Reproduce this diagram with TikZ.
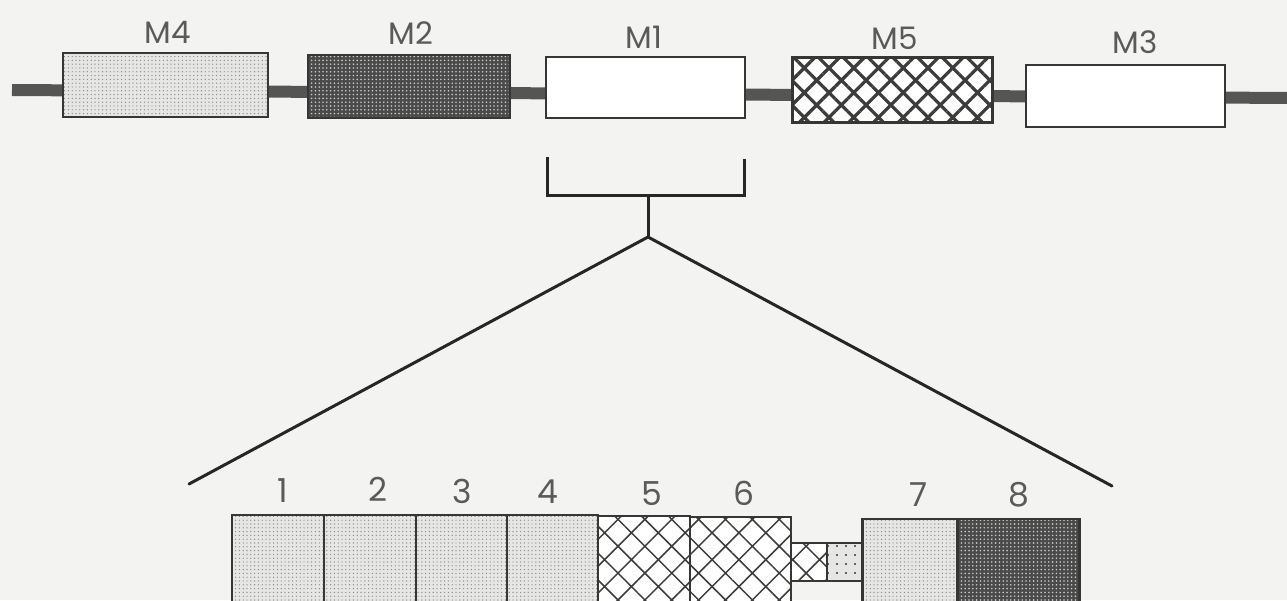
\documentclass[tikz,border=0pt]{standalone}
\usepackage{fontspec}
\setmainfont{Poppins}
\usetikzlibrary{patterns.meta}
\definecolor{bg}{HTML}{F3F3F1}
\definecolor{edge}{HTML}{363636}
\definecolor{bar}{HTML}{555555}
\definecolor{txt}{HTML}{5A5A5A}
\definecolor{lightbase}{HTML}{E6E6E4}
\definecolor{lightdotc}{HTML}{8C8C8C}
\definecolor{darkbase}{HTML}{4A4A4A}
\definecolor{darkdotc}{HTML}{C8C8C8}
\definecolor{mesh}{HTML}{3C3C3C}
\begin{document}
\begin{tikzpicture}[x=1pt,y=-1pt,
  box/.style={draw=edge, line width=2.4pt, rectangle, inner sep=0pt, fill=white},
  lightdot/.style={preaction={fill=lightbase}, pattern={Dots[distance=3.8pt,radius=0.7pt]}, pattern color=lightdotc},
  darkdot/.style={preaction={fill=darkbase}, pattern={Dots[distance=3.8pt,radius=0.9pt]}, pattern color=darkdotc},
  bigmesh/.style={preaction={fill=white}, pattern={Hatch[angle=45,distance=17.5pt,line width=3.2pt]}, pattern color=mesh, line width=3pt},
  smallmesh/.style={preaction={fill=white}, pattern={Hatch[angle=45,distance=19pt,line width=1.5pt]}, pattern color=mesh},
  sparsedot/.style={preaction={fill=lightbase}, pattern={Dots[distance=9pt,radius=1.2pt]}, pattern color=edge},
  lbl/.style={text=txt, font=\fontsize{31}{34}\selectfont, inner sep=0pt, anchor=base},
  num/.style={text=txt, font=\fontsize{33}{36}\selectfont, inner sep=0pt, anchor=base},
  conn/.style={draw=black!85, line width=3pt, line cap=round}
]
\useasboundingbox (0,0) rectangle (1287,600);
\clip (0,0) rectangle (1287,600);
\fill[bg] (0,0) rectangle (1287,600);

% backbone bar
\coordinate (barL) at (12,90);
\coordinate (barR) at (1290,98);
\draw[bar, line width=12pt] (barL) -- (barR);

% top modules
\node[box, lightdot, minimum width=205pt, minimum height=64pt] (m4) at (165.5,85) {};
\node[box, darkdot, minimum width=202pt, minimum height=63pt] (m2) at (409,86.5) {};
\node[box, minimum width=199pt, minimum height=61pt] (m1) at (645.5,87.5) {};
\node[box, bigmesh, minimum width=200pt, minimum height=65pt] (m5) at (892,90) {};
\node[box, minimum width=199pt, minimum height=62pt] (m3) at (1125.5,96) {};

\node[lbl] (m4l) at (168,43) {M4};
\node[lbl] (m2l) at (411,44) {M2};
\node[lbl] (m1l) at (644,48) {M1};
\node[lbl] (m5l) at (895,49) {M5};
\node[lbl] (m3l) at (1135,53) {M3};

% bracket under M1 and expansion lines
\coordinate (brL) at (547,157);
\coordinate (brR) at (744,159);
\coordinate (brM) at (648,195);
\coordinate (apex) at (648,237);
\coordinate (expL) at (189,484);
\coordinate (expR) at (1112,486);
\draw[conn, line cap=butt] (brL) |- (brM) -| (brR);
\draw[conn, line cap=butt] (brM) -- (apex);
\draw[conn] (expL) -- (apex) -- (expR);

% bottom domains
\node[box, lightdot, minimum width=92pt, minimum height=92pt] (b1) at (278,561) {};
\node[box, lightdot, minimum width=92pt, minimum height=92pt] (b2) at (370,561) {};
\node[box, lightdot, minimum width=91pt, minimum height=92pt] (b3) at (461.5,561) {};
\node[box, lightdot, minimum width=91pt, minimum height=92pt] (b4) at (552.5,561) {};
\node[box, smallmesh, minimum width=92pt, minimum height=92pt] (b5) at (644,562) {};
\node[box, smallmesh, minimum width=101pt, minimum height=92pt] (b6) at (740.5,563) {};
\node[box, smallmesh, minimum width=36pt, minimum height=38pt] (s1) at (809,562) {};
\node[box, sparsedot, minimum width=35pt, minimum height=38pt] (s2) at (844.5,562) {};
\node[box, lightdot, minimum width=95pt, minimum height=92pt] (b7) at (910,565) {};
\node[box, darkdot, minimum width=122pt, minimum height=92pt] (b8) at (1018.5,565) {};

\node[num] (n1) at (283,502) {1};
\node[num] (n2) at (378,501) {2};
\node[num] (n3) at (462,503) {3};
\node[num] (n4) at (548,503) {4};
\node[num] (n5) at (652,505) {5};
\node[num] (n6) at (744,505) {6};
\node[num] (n7) at (918,506) {7};
\node[num] (n8) at (1019,506) {8};
\end{tikzpicture}
\end{document}
